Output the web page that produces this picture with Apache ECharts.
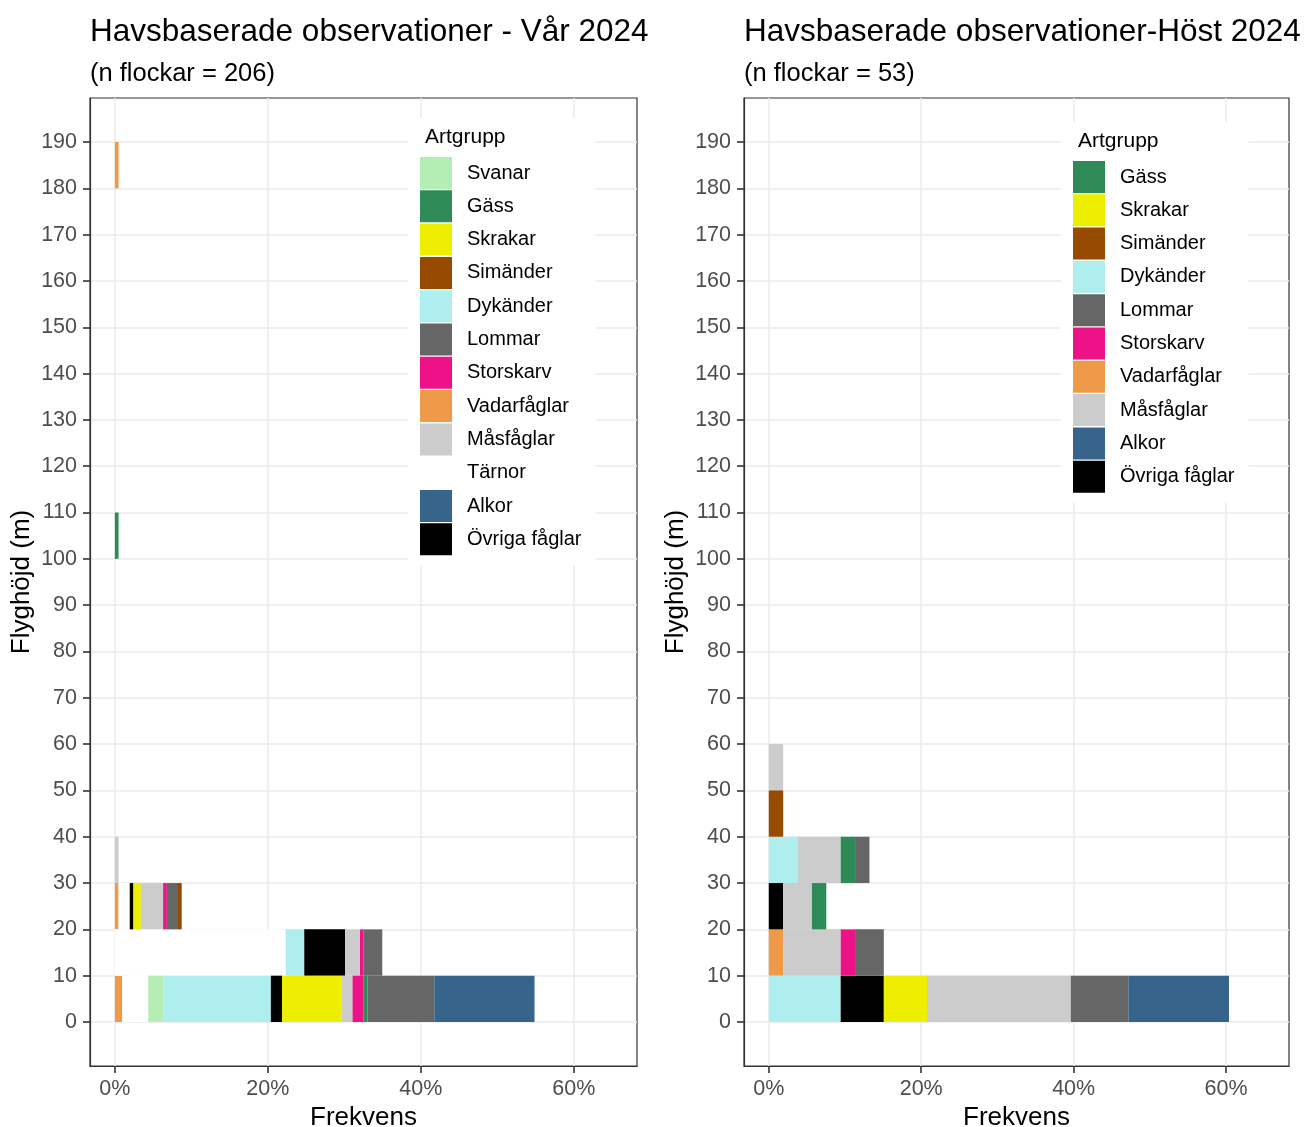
<!DOCTYPE html>
<html>
<head>
<meta charset="utf-8">
<script src="https://cdn.jsdelivr.net/npm/echarts@6/dist/echarts.min.js"></script>
<style>
html,body{margin:0;padding:0;background:#fff;}
#chart{width:1304px;height:1127px;}
</style>
</head>
<body>
<div id="chart"></div>
<script>
// Stacking order (left to right inside each height bin)
const speciesOrder = ['Vadarfåglar','Tärnor','Svanar','Dykänder','Övriga fåglar','Skrakar','Måsfåglar','Storskarv','Gäss','Lommar','Simänder','Alkor'];
const speciesColors = ['#ee9a49','#ffffff','#b4eeb4','#aeeeee','#000000','#eeee00','#cccccc','#ee1289','#2e8b57','#666666','#964b00','#36648b'];

// Legend order
const legendSpring = ['Svanar','Gäss','Skrakar','Simänder','Dykänder','Lommar','Storskarv','Vadarfåglar','Måsfåglar','Tärnor','Alkor','Övriga fåglar'];
const legendAutumn = ['Gäss','Skrakar','Simänder','Dykänder','Lommar','Storskarv','Vadarfåglar','Måsfåglar','Alkor','Övriga fåglar'];

// Number of flocks
const springN = 206;
const autumnN = 53;

// Lower edge (m) of each 10 m height bin that has observations
const springBins = [0, 10, 20, 30, 100, 180];
const autumnBins = [0, 10, 20, 30, 40, 50];

// Flock counts: rows follow speciesOrder, columns follow the bins
const springCounts = [
  [2, 0, 1, 0, 0, 1],   // Vadarfåglar
  [7, 46, 3, 0, 0, 0],  // Tärnor
  [4, 0, 0, 0, 0, 0],   // Svanar
  [29, 5, 0, 0, 0, 0],  // Dykänder
  [3, 11, 1, 0, 0, 0],  // Övriga fåglar
  [16, 0, 2, 0, 0, 0],  // Skrakar
  [3, 4, 6, 1, 0, 0],   // Måsfåglar
  [3, 1, 1, 0, 0, 0],   // Storskarv
  [1, 0, 0, 0, 1, 0],   // Gäss
  [18, 5, 3, 0, 0, 0],  // Lommar
  [0, 0, 1, 0, 0, 0],   // Simänder
  [27, 0, 0, 0, 0, 0]   // Alkor
];
const autumnCounts = [
  [0, 1, 0, 0, 0, 0],   // Vadarfåglar
  [0, 0, 0, 0, 0, 0],   // Tärnor
  [0, 0, 0, 0, 0, 0],   // Svanar
  [5, 0, 0, 2, 0, 0],   // Dykänder
  [3, 0, 1, 0, 0, 0],   // Övriga fåglar
  [3, 0, 0, 0, 0, 0],   // Skrakar
  [10, 4, 2, 3, 0, 1],  // Måsfåglar
  [0, 1, 0, 0, 0, 0],   // Storskarv
  [0, 0, 1, 1, 0, 0],   // Gäss
  [4, 2, 0, 1, 0, 0],   // Lommar
  [0, 0, 0, 0, 1, 0],   // Simänder
  [7, 0, 0, 0, 0, 0]    // Alkor
];

// Tick labels
const yTicks = [0,10,20,30,40,50,60,70,80,90,100,110,120,130,140,150,160,170,180,190];
const xTicks = [0, 20, 40, 60];

const titles = ['Havsbaserade observationer - Vår 2024', 'Havsbaserade observationer-Höst 2024'];
const subtitles = ['(n flockar = ' + springN + ')', '(n flockar = ' + autumnN + ')'];

const FONT = 'Liberation Sans, Arial, sans-serif';

function renderItem(params, api) {
  const p0 = api.coord([api.value(0), api.value(2)]);
  const p1 = api.coord([api.value(1), api.value(3)]);
  return {
    type: 'rect',
    shape: { x: p0[0], y: p1[1], width: p1[0] - p0[0], height: p0[1] - p1[1] },
    style: api.style({ stroke: null })
  };
}

function buildSeries(counts, bins, n, idx) {
  const cum = bins.map(() => 0);
  const out = [];
  speciesOrder.forEach((sp, i) => {
    const data = [];
    bins.forEach((b, j) => {
      const c = counts[i][j];
      if (c > 0) {
        const x0 = cum[j] / n * 100;
        cum[j] += c;
        data.push([x0, cum[j] / n * 100, b, b + 10]);
      }
    });
    out.push({
      type: 'custom',
      name: sp,
      xAxisIndex: idx,
      yAxisIndex: idx,
      itemStyle: { color: speciesColors[i] },
      renderItem: renderItem,
      encode: { x: [0, 1], y: [2, 3] },
      silent: true,
      data: data
    });
  });
  return out;
}

const gridDefs = [
  { left: 90, top: 98, width: 547, height: 968 },
  { left: 744, top: 98, width: 545, height: 968 }
];

const axisLineStyle = { color: '#333', width: 1.2 };
const tickStyle = { color: '#333', width: 1.6 };

function xAxisDef(i) {
  return {
    type: 'value', gridIndex: i, position: 'bottom', min: -3.25, max: 68.25, minInterval: 10, maxInterval: 10,
    name: 'Frekvens', nameLocation: 'middle', nameGap: 39,
    nameTextStyle: { fontFamily: FONT, fontSize: 26, color: '#000' },
    axisLine: { show: true, onZero: false, lineStyle: axisLineStyle },
    axisTick: { show: true, customValues: xTicks, length: 7, lineStyle: tickStyle },
    axisLabel: { customValues: xTicks, formatter: v => v + '%', fontFamily: FONT, fontSize: 21.5, color: '#4d4d4d', margin: 12 },
    splitLine: { show: true, lineStyle: { color: '#ebebeb', width: 1.5 } }
  };
}
function yAxisDef(i) {
  return {
    type: 'value', gridIndex: i, position: 'left', min: -9.5, max: 199.5, minInterval: 5, maxInterval: 5,
    name: 'Flyghöjd (m)', nameLocation: 'middle', nameGap: 55,
    nameTextStyle: { fontFamily: FONT, fontSize: 26, color: '#000' },
    axisLine: { show: true, onZero: false, lineStyle: axisLineStyle },
    axisTick: { show: true, customValues: yTicks, length: 7, lineStyle: tickStyle },
    axisLabel: { customValues: yTicks, fontFamily: FONT, fontSize: 21.5, color: '#4d4d4d', margin: 13 },
    splitLine: { show: true, lineStyle: { color: '#ebebeb', width: 1.5 } }
  };
}

function legendDef(names, left, top) {
  return {
    show: true, orient: 'vertical', left: left, top: top,
    data: names, icon: 'rect', itemWidth: 32, itemHeight: 32, itemGap: 1.3,
    padding: [39, 14, 10, 12], backgroundColor: '#fff',
    selectedMode: false,
    textStyle: { fontFamily: FONT, fontSize: 20, color: '#000', padding: [0, 0, 0, 10] }
  };
}

const option = {
  animation: false,
  backgroundColor: '#fff',
  title: [
    { text: titles[0], left: 90, top: 16, padding: 0, textStyle: { fontFamily: FONT, fontSize: 31.5, fontWeight: 'normal', color: '#000' } },
    { text: subtitles[0], left: 90, top: 61, padding: 0, textStyle: { fontFamily: FONT, fontSize: 25.5, fontWeight: 'normal', color: '#000' } },
    { text: titles[1], left: 744, top: 16, padding: 0, textStyle: { fontFamily: FONT, fontSize: 31.5, fontWeight: 'normal', color: '#000' } },
    { text: subtitles[1], left: 744, top: 61, padding: 0, textStyle: { fontFamily: FONT, fontSize: 25.5, fontWeight: 'normal', color: '#000' } },
    { text: 'Artgrupp', left: 425, top: 127, padding: 0, textStyle: { fontFamily: FONT, fontSize: 21, fontWeight: 'normal', color: '#000' }, z: 10 },
    { text: 'Artgrupp', left: 1078, top: 131, padding: 0, textStyle: { fontFamily: FONT, fontSize: 21, fontWeight: 'normal', color: '#000' }, z: 10 }
  ],
  grid: gridDefs.map(g => Object.assign({ show: true, borderColor: '#333', borderWidth: 1.2, backgroundColor: 'transparent', containLabel: false, outerBoundsMode: 'none' }, g)),
  xAxis: [xAxisDef(0), xAxisDef(1)],
  yAxis: [yAxisDef(0), yAxisDef(1)],
  legend: [legendDef(legendSpring, 408, 118), legendDef(legendAutumn, 1061, 122)],
  series: buildSeries(springCounts, springBins, springN, 0).concat(buildSeries(autumnCounts, autumnBins, autumnN, 1))
};

const chart = echarts.init(document.getElementById('chart'), null, { renderer: 'canvas' });
chart.setOption(option);
</script>
</body>
</html>
